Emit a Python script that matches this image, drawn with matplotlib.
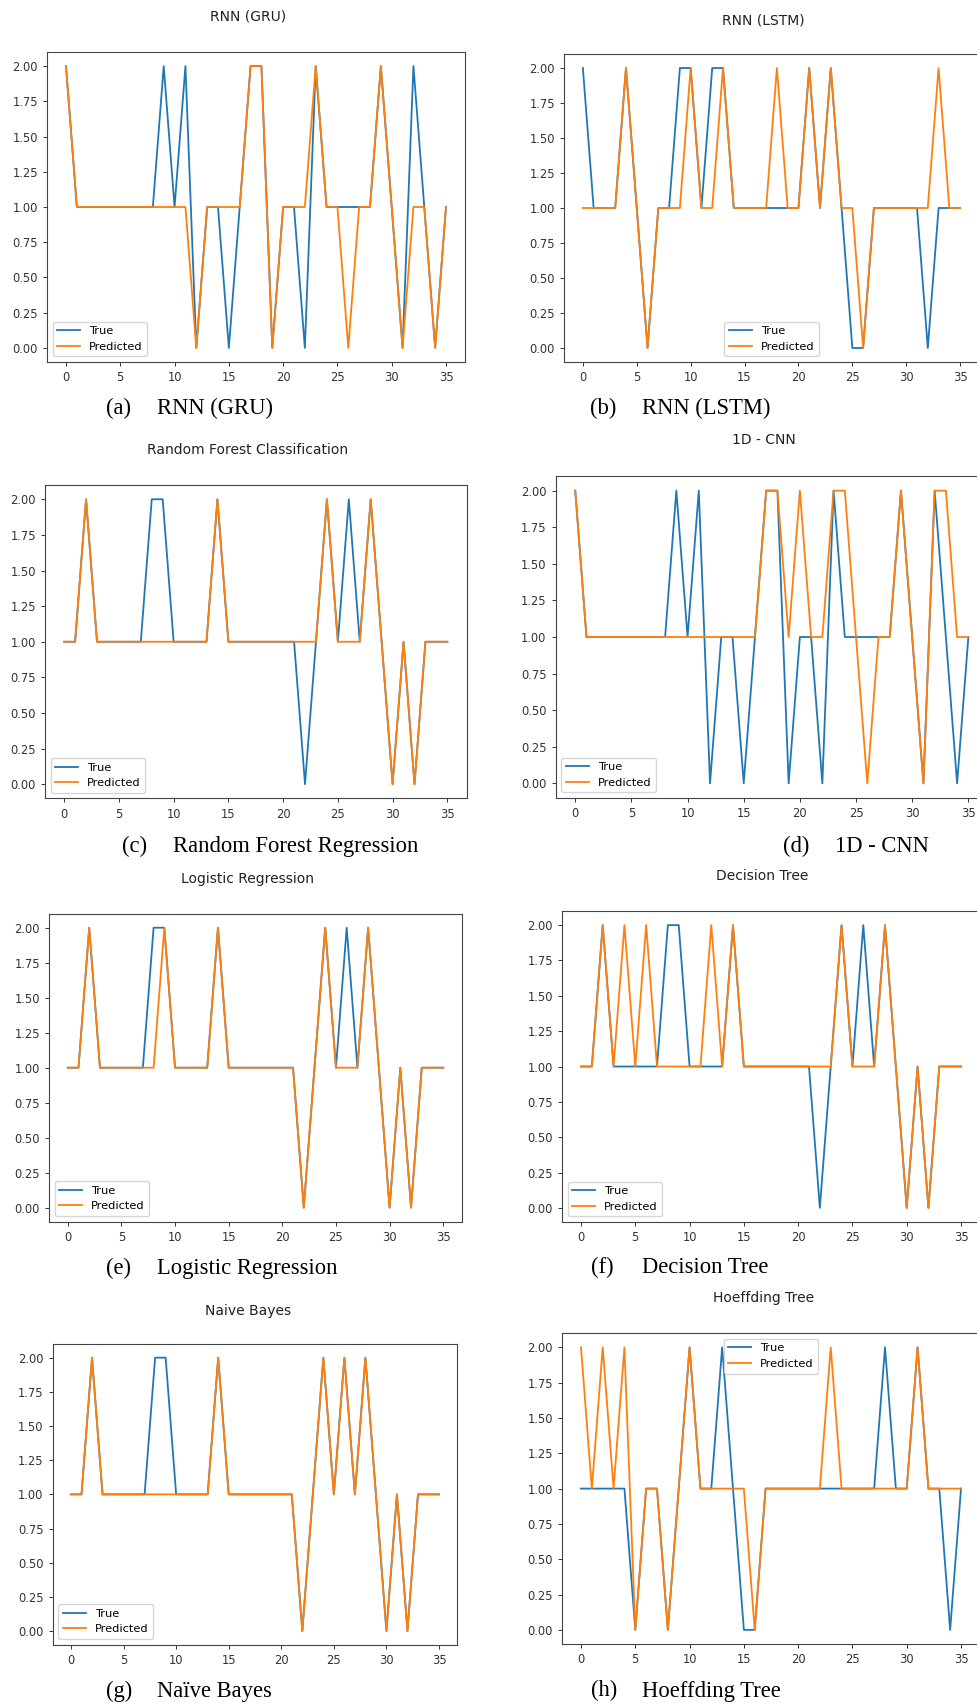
import matplotlib
matplotlib.use("Agg")
import matplotlib.pyplot as plt
import numpy as np

W, H = 977, 1705
x = list(range(36))

gru_true = [2,1,1,1,1,1,1,1,1,2,1,2,0,1,1,0,1,2,2,0,1,1,0,2,1,1,1,1,1,2,1,0,2,1,0,1]
gru_pred = [2,1,1,1,1,1,1,1,1,1,1,1,0,1,1,1,1,2,2,0,1,1,1,2,1,1,0,1,1,2,1,0,1,1,0,1]

lstm_true = [2,1,1,1,2,1,0,1,1,2,2,1,2,2,1,1,1,1,1,1,1,2,1,2,1,0,0,1,1,1,1,1,0,1,1,1]
lstm_pred = [1,1,1,1,2,1,0,1,1,1,2,1,1,2,1,1,1,1,2,1,1,2,1,2,1,1,0,1,1,1,1,1,1,2,1,1]

rf_true = [1,1,2,1,1,1,1,1,2,2,1,1,1,1,2,1,1,1,1,1,1,1,0,1,2,1,2,1,2,1,0,1,0,1,1,1]
rf_pred = [1,1,2,1,1,1,1,1,1,1,1,1,1,1,2,1,1,1,1,1,1,1,1,1,2,1,1,1,2,1,0,1,0,1,1,1]

cnn_true = [2,1,1,1,1,1,1,1,1,2,1,2,0,1,1,0,1,2,2,0,1,1,0,2,1,1,1,1,1,2,1,0,2,1,0,1]
cnn_pred = [2,1,1,1,1,1,1,1,1,1,1,1,1,1,1,1,1,2,2,1,2,1,1,2,2,1,0,1,1,2,1,0,2,2,1,1]

lr_true = [1,1,2,1,1,1,1,1,2,2,1,1,1,1,2,1,1,1,1,1,1,1,0,1,2,1,2,1,2,1,0,1,0,1,1,1]
lr_pred = [1,1,2,1,1,1,1,1,1,2,1,1,1,1,2,1,1,1,1,1,1,1,0,1,2,1,1,1,2,1,0,1,0,1,1,1]

dt_true = [1,1,2,1,1,1,1,1,2,2,1,1,1,1,2,1,1,1,1,1,1,1,0,1,2,1,2,1,2,1,0,1,0,1,1,1]
dt_pred = [1,1,2,1,2,1,2,1,1,1,1,1,2,1,2,1,1,1,1,1,1,1,1,1,2,1,1,1,2,1,0,1,0,1,1,1]

nb_true = [1,1,2,1,1,1,1,1,2,2,1,1,1,1,2,1,1,1,1,1,1,1,0,1,2,1,2,1,2,1,0,1,0,1,1,1]
nb_pred = [1,1,2,1,1,1,1,1,1,1,1,1,1,1,2,1,1,1,1,1,1,1,0,1,2,1,2,1,2,1,0,1,0,1,1,1]

ht_true = [1,1,1,1,1,0,1,1,0,1,2,1,1,2,1,0,0,1,1,1,1,1,1,1,1,1,1,1,2,1,1,2,1,1,0,1]
ht_pred = [2,1,2,1,2,0,1,1,0,1,2,1,1,1,1,1,0,1,1,1,1,1,1,2,1,1,1,1,1,1,1,2,1,1,1,1]

titles = ["RNN (GRU)", "RNN (LSTM)", "Random Forest Classification", "1D - CNN",
          "Logistic Regression", "Decision Tree", "Naive Bayes", "Hoeffding Tree"]
labels = ["(a)", "(b)", "(c)", "(d)", "(e)", "(f)", "(g)", "(h)"]
captions = ["RNN (GRU)", "RNN (LSTM)", "Random Forest Regression", "1D - CNN",
            "Logistic Regression", "Decision Tree", "Naïve Bayes", "Hoeffding Tree"]
series = [(gru_true, gru_pred), (lstm_true, lstm_pred), (rf_true, rf_pred), (cnn_true, cnn_pred),
          (lr_true, lr_pred), (dt_true, dt_pred), (nb_true, nb_pred), (ht_true, ht_pred)]

# layout in pixels: axes (left, right, top, bottom), title (cx, cy), caption (label_x, name_x, baseline)
axes_px = [(47, 465, 52, 362), (564, 979, 54, 362), (45, 466.5, 485, 798.5), (555.6, 988, 476, 798),
           (49, 462, 913.7, 1221.7), (562, 980, 911, 1222), (52.6, 457.4, 1344, 1644.7), (562, 980, 1333.2, 1644)]
title_px = [(248, 17), (763, 20), (248, 450), (764, 440), (248, 879), (762, 876), (248, 1310.7), (764, 1298)]
cap_px = [(106, 156.7, 414), (590, 641.7, 414), (121.7, 173.3, 852), (783, 835, 852),
          (106, 156.7, 1274), (590.7, 641.7, 1273), (106, 156.7, 1696.5), (590.7, 641.7, 1696.5)]
legend_loc = ["lower left", "lower center", "lower left", "lower left",
              "lower left", "lower left", "lower left", "upper center"]

fig = plt.figure(figsize=(W / 100, H / 100), dpi=100)
fig.patch.set_facecolor("white")

for i in range(8):
    l, r, t, b = axes_px[i]
    ax = fig.add_axes([l / W, 1 - b / H, (r - l) / W, (b - t) / H])
    yt, yp = series[i]
    ax.plot(x, yt, color="#1f77b4", lw=1.3, label="True")
    ax.plot(x, yp, color="#ff7f0e", lw=1.3, label="Predicted")
    ax.set_xticks([0, 5, 10, 15, 20, 25, 30, 35])
    ax.set_yticks([0, 0.25, 0.5, 0.75, 1.0, 1.25, 1.5, 1.75, 2.0])
    ax.set_yticklabels([f"{v:.2f}" for v in [0, 0.25, 0.5, 0.75, 1.0, 1.25, 1.5, 1.75, 2.0]])
    ax.tick_params(labelsize=8.3, colors="#333333", length=3, width=0.7)
    for s in ax.spines.values():
        s.set_color("#444444")
        s.set_linewidth(0.8)
    ax.legend(loc=legend_loc[i], fontsize=8.2, handlelength=2.0)
    cx, cy = title_px[i]
    fig.text(cx / W, 1 - cy / H, titles[i], ha="center", va="center", fontsize=10, color="#222222")
    lx, nx, by = cap_px[i]
    fig.text(lx / W, 1 - by / H, labels[i], ha="left", va="baseline", fontsize=16.3,
             family="Liberation Serif", color="black")
    fig.text(nx / W, 1 - by / H, captions[i], ha="left", va="baseline", fontsize=16.3,
             family="Liberation Serif", color="black")

fig.savefig("out.png", dpi=100)
